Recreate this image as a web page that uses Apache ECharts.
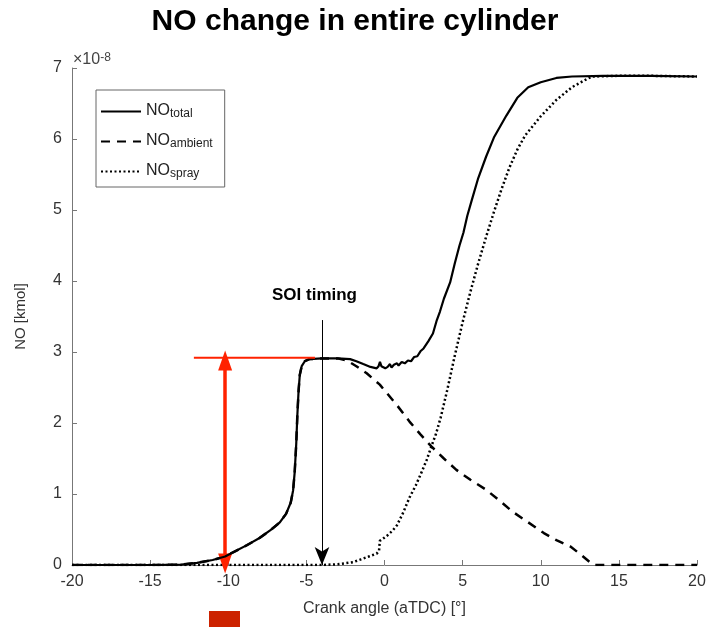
<!DOCTYPE html>
<html><head><meta charset="utf-8">
<script src="https://cdn.jsdelivr.net/npm/echarts@6/dist/echarts.min.js"></script>
<style>html,body{margin:0;padding:0;background:#fff}#c{width:710px;height:627px}</style>
</head><body><div id="c"></div>
<script>
// Values of NO in units of 1e-8 kmol, x = crank angle (deg aTDC)
const xTicks = [-20, -15, -10, -5, 0, 5, 10, 15, 20];
const yTicks = [0, 1, 2, 3, 4, 5, 6, 7];
const totalData = [[-20,0],[-15,0],[-13,0.005],[-12,0.03],[-11,0.07],[-10.2,0.12],[-9.5,0.2],[-8.8,0.28],[-8,0.38],[-7.3,0.49],[-6.7,0.6],[-6.3,0.72],[-6,0.88],[-5.85,1.05],[-5.75,1.3],[-5.65,1.7],[-5.58,2.1],[-5.5,2.45],[-5.42,2.68],[-5.3,2.8],[-5.1,2.87],[-4.8,2.9],[-4,2.91],[-3,2.91],[-2.2,2.9],[-1.8,2.87],[-1.36,2.83],[-0.9,2.79],[-0.5,2.77],[-0.38,2.8],[-0.29,2.86],[-0.2,2.8],[0.05,2.77],[0.2,2.79],[0.35,2.83],[0.45,2.78],[0.6,2.82],[0.8,2.84],[0.9,2.81],[1.1,2.86],[1.3,2.84],[1.5,2.88],[1.7,2.87],[1.9,2.93],[2.1,2.94],[2.3,3.01],[2.5,3.05],[2.8,3.15],[3.1,3.26],[3.35,3.45],[3.55,3.57],[3.8,3.75],[4.2,3.98],[4.5,4.25],[4.8,4.5],[5.05,4.68],[5.3,4.92],[5.6,5.15],[6,5.45],[6.5,5.75],[7,6.02],[7.8,6.33],[8.5,6.58],[9.2,6.73],[10,6.8],[11,6.86],[12,6.88],[14,6.89],[17,6.89],[20,6.88]];
const ambientData = [[-20,0],[-15,0],[-13,0.005],[-12,0.03],[-11,0.07],[-10.2,0.12],[-9.5,0.2],[-8.8,0.28],[-8,0.38],[-7.3,0.49],[-6.7,0.6],[-6.3,0.72],[-6,0.88],[-5.85,1.05],[-5.75,1.3],[-5.65,1.7],[-5.58,2.1],[-5.5,2.45],[-5.42,2.68],[-5.3,2.8],[-5.1,2.87],[-4.8,2.9],[-4,2.91],[-3,2.91],[-2.4,2.88],[-1.8,2.8],[-1.14,2.7],[-0.3,2.54],[0.8,2.25],[1.6,2.02],[2.3,1.84],[3,1.67],[3.8,1.5],[4.6,1.34],[5.5,1.2],[6.5,1.06],[7.4,0.9],[8.2,0.75],[9.2,0.6],[10.2,0.45],[11,0.35],[11.9,0.26],[12.6,0.14],[13.2,0.03],[13.4,0],[20,0]];
const sprayData = [[-20,0],[-4,0],[-3,0.01],[-2,0.04],[-1.5,0.08],[-1,0.12],[-0.5,0.16],[-0.35,0.2],[-0.3,0.34],[-0.1,0.37],[0.2,0.42],[0.5,0.48],[0.8,0.56],[1.2,0.74],[1.6,0.95],[2,1.12],[2.4,1.32],[2.7,1.48],[3,1.67],[3.3,1.85],[3.6,2.08],[4,2.45],[4.5,2.95],[5,3.42],[5.5,3.85],[6,4.25],[6.5,4.62],[7,4.97],[7.5,5.3],[8,5.6],[8.5,5.85],[9,6.05],[10,6.32],[11,6.55],[12,6.73],[13,6.85],[13.3,6.88],[15,6.89],[17,6.89],[20,6.88]];
const redLevel = [[-12.2,2.92],[-4.45,2.92]];
const redArrow = [[-10.2,2.88],[-10.2,0.02]];
const soiArrow = [[-4,3.45],[-4,0.0]];

const subs = {NO_total:'total', NO_ambient:'ambient', NO_spray:'spray'};
const chart = echarts.init(document.getElementById('c'));
const font = 'Liberation Sans, Arial, sans-serif';
chart.setOption({
  animation:false,
  title:{text:'NO change in entire cylinder', left:'center', top:2,
    textStyle:{fontFamily:font, fontWeight:'bold', fontSize:30, color:'#000'}},
  grid:{left:72, right:13, top:68, bottom:62},
  legend:{orient:'vertical', left:96, top:90, data:['NO_total','NO_ambient','NO_spray'],
    backgroundColor:'#fff', borderColor:'#666', borderWidth:1, borderRadius:0,
    padding:[7,12,7,4], itemGap:7, itemWidth:40, itemHeight:2,
    itemStyle:{color:'rgba(0,0,0,0)', borderColor:'rgba(0,0,0,0)', borderWidth:0},
    formatter:n=>'{a|NO}{b|'+subs[n]+'}',
    textStyle:{fontFamily:font, color:'#222', rich:{
      a:{fontFamily:font, fontSize:16, lineHeight:17, verticalAlign:'top', color:'#222'},
      b:{fontFamily:font, fontSize:12, lineHeight:12, padding:[11,0,0,0], verticalAlign:'bottom', color:'#222'}}}},
  xAxis:{type:'value', min:xTicks[0], max:xTicks[xTicks.length-1], interval:5,
    name:'Crank angle (aTDC) [°]', nameLocation:'middle', nameGap:36,
    nameTextStyle:{fontFamily:font, fontSize:16, color:'#333'},
    axisLine:{onZero:false, lineStyle:{color:'#777'}}, axisTick:{inside:true, length:5, lineStyle:{color:'#777'}},
    axisLabel:{fontFamily:font, fontSize:16, color:'#333', margin:9}, splitLine:{show:false}},
  yAxis:{type:'value', min:yTicks[0], max:yTicks[yTicks.length-1], interval:1,
    name:'NO [kmol]', nameLocation:'middle', nameGap:44, nameRotate:90,
    nameTextStyle:{fontFamily:font, fontSize:15, color:'#333'},
    axisLine:{show:true, onZero:false, lineStyle:{color:'#777'}}, axisTick:{show:true, inside:true, length:5, lineStyle:{color:'#777'}},
    axisLabel:{fontFamily:font, fontSize:16, color:'#333', margin:10}, splitLine:{show:false}},
  graphic:[
    {type:'text', left:73, top:52, style:{rich:{m:{fontFamily:font,fontSize:16,fill:'#444'},s:{fontFamily:font,fontSize:12,fill:'#444',verticalAlign:'top',lineHeight:10}}, text:'{m|×10}{s|-8}'}},
    {type:'text', left:272, top:287, style:{text:'SOI timing', fontFamily:font, fontWeight:'bold', fontSize:17, fill:'#000'}},
    {type:'rect', left:209, top:611, shape:{width:31, height:17}, style:{fill:'#cc2200'}}
  ],
  series:[
    {name:'NO_spray', type:'line', data:sprayData, symbol:'none', z:3,
      lineStyle:{color:'#000', width:2.5, type:[2,2.5], cap:'butt'}, itemStyle:{color:'#000'}},
    {name:'NO_ambient', type:'line', data:ambientData, symbol:'none', z:4,
      lineStyle:{color:'#000', width:2.5, type:[9,7], cap:'butt'}, itemStyle:{color:'#000'}},
    {name:'NO_total', type:'line', data:totalData, symbol:'none', z:5,
      lineStyle:{color:'#000', width:2.2}, itemStyle:{color:'#000'}},
    {name:'red', type:'line', data:redLevel, symbol:'none', z:6, silent:true,
      lineStyle:{color:'#ff2200', width:2},
      markLine:{silent:true, symbol:['triangle','triangle'], symbolSize:[14,20], label:{show:false},
        lineStyle:{color:'#ff2200', width:3.5, type:'solid'},
        data:[[{coord:redArrow[0]},{coord:redArrow[1]}]]}},
    {name:'soi', type:'line', data:[], symbol:'none', z:6, silent:true,
      markLine:{silent:true, symbol:['none','arrow'], symbolSize:[11,18], label:{show:false},
        lineStyle:{color:'#000', width:1, type:'solid'},
        data:[[{coord:soiArrow[0]},{coord:soiArrow[1]}]]}}
  ]
});
</script></body></html>
